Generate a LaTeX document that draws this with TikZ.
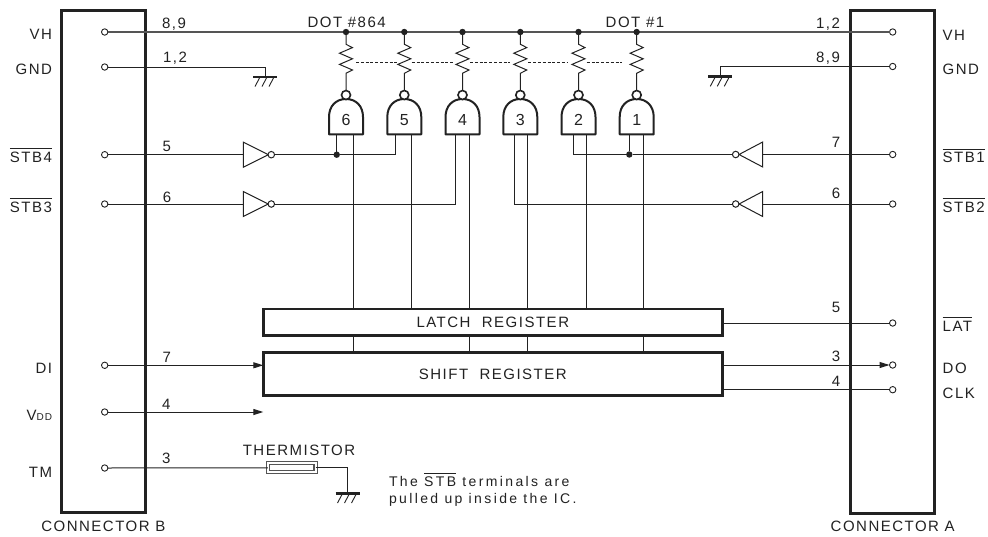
\documentclass[tikz,border=0pt]{standalone}
\usepackage{fontspec}
\setmainfont[LetterSpace=10]{Liberation Sans}
\newfontfamily\notefont[LetterSpace=17]{Liberation Sans}
\usetikzlibrary{arrows.meta,calc}
\definecolor{ink}{HTML}{222222}
\definecolor{railc}{HTML}{555555}
\newcommand\ovl[1]{\leavevmode\vbox{\hrule height .9pt \kern 2.6pt \hbox{#1}}}
\tikzset{
  wire/.style={draw=ink,line width=1pt},
  rail/.style={draw=railc,line width=1.5pt},
  conn/.style={draw=ink,line width=3pt,inner sep=0pt,outer sep=0pt,minimum width=84.5pt},
  regbox/.style={draw=ink,line width=2.5pt,inner sep=0pt,outer sep=0pt,minimum width=459pt,font=\fontsize{15}{16}\selectfont,text=ink},
  pinc/.style={circle,draw=ink,line width=0.9pt,fill=white,minimum size=6.4pt,inner sep=0pt,outer sep=0pt},
  bub/.style={circle,draw=ink,line width=1pt,fill=white,minimum size=6.5pt,inner sep=0pt,outer sep=0pt},
  gbub/.style={circle,draw=ink,line width=1.6pt,fill=white,minimum size=9pt,inner sep=0pt,outer sep=0pt},
  junc/.style={circle,fill=ink,minimum size=6.4pt,inner sep=0pt,outer sep=0pt},
  lab/.style={font=\fontsize{15}{16}\selectfont,text=ink,inner sep=0pt,outer sep=0pt},
  num/.style={lab,anchor=center},
  lL/.style={lab,anchor=base east},
  lR/.style={lab,anchor=base west},
  arr/.style={wire,-{Triangle[length=10pt,width=6pt,sep=0pt]}},
  gateshape/.style={draw=ink,line width=2pt,line join=round,fill=white},
}
\newcommand\gnd[1]{%
  \draw[ink,line width=2.8pt] ($(#1)+(-12,0)$) -- ($(#1)+(12,0)$);
  \foreach \d in {-7,0,7}{\draw[ink,line width=0.9pt] ($(#1)+(\d+1.5,1)$) -- ($(#1)+(\d-3,9.5)$);}
}
\begin{document}
\begin{tikzpicture}[x=1pt,y=-1pt]
\useasboundingbox (0,0) rectangle (988,536);
\fill[white] (0,0) rectangle (988,536);

% connector boxes
\node[conn,minimum height=501.5pt,anchor=north west] (cb) at (61,10.5) {};
\node[conn,minimum height=502.5pt,anchor=north west] (ca) at (850.3,10.5) {};

% registers
\node[regbox,minimum height=26.7pt,anchor=north west] (latch) at (263.3,309) {LATCH\ \ REGISTER};
\node[regbox,minimum height=43.4pt,anchor=north west] (shift) at (263.3,352.3) {SHIFT\ \ REGISTER};

% pins on connector B
\node[pinc] (bVH)  at (104.7,32) {};
\node[pinc] (bGND) at (104.7,67) {};
\node[pinc] (bS4)  at (104.7,154.7) {};
\node[pinc] (bS3)  at (104.7,204) {};
\node[pinc] (bDI)  at (104.7,365.3) {};
\node[pinc] (bVDD) at (104.7,412) {};
\node[pinc] (bTM)  at (104.7,468) {};
% pins on connector A
\node[pinc] (aVH)  at (892.7,32) {};
\node[pinc] (aGND) at (892.7,66.5) {};
\node[pinc] (aS1)  at (892.7,154.5) {};
\node[pinc] (aS2)  at (892.7,204) {};
\node[pinc] (aLAT) at (892.7,323) {};
\node[pinc] (aDO)  at (892.7,365) {};
\node[pinc] (aCLK) at (892.7,389.7) {};

% supply rail
\draw[rail] (bVH) -- (aVH);

% grounds
\coordinate (g1) at (265,77);
\coordinate (g2) at (720.3,76.8);
\coordinate (g3) at (347.5,493.5);
\draw[wire] (bGND) -| (g1);
\draw[wire] (aGND) -| (g2);
\gnd{g1}\gnd{g2}\gnd{g3}

% gates, resistors
\foreach \n/\x/\lx/\rx in {6/346/336.7/353.3,5/404.3/395.3/411.7,4/462.5/455.7/469.3,3/520.3/514/527.7,2/578.5/573.3/586,1/636.7/629.3/643.3}{
  \node[junc] (d\n) at (\x,32) {};
  \draw[wire] (d\n) -- (\x,44.3) -- ++(6.5,3.3) -- ++(-13,5.6) -- ++(13,5.6) -- ++(-13,5.6) -- ++(13,5.6) -- ++(-6.5,3.3) -- (\x,91);
  \path[gateshape] (\x-17,134.3) -- (\x+17,134.3) -- (\x+17,117) .. controls (\x+17,106) and (\x+10,99) .. (\x,99) .. controls (\x-10,99) and (\x-17,106) .. (\x-17,117) -- cycle;
  \node[gbub] (b\n) at (\x,95) {};
  \node[lab,font=\fontsize{16}{16}\selectfont] (gl\n) at (\x,120) {\n};
  \coordinate (gi\n) at (\lx,134.3);
  \coordinate (gr\n) at (\rx,134.3);
  \draw[wire] (gr\n) -- (gr\n |- latch.north);
}
% lines between registers
\foreach \n in {6,4,3,1}{\draw[wire] (gr\n |- latch.south) -- (gr\n |- shift.north);}

% dashed link
\foreach \a/\b in {356/396.7,411.7/453,470/510,528.3/568.3,586.7/621.7}{
  \coordinate (da) at (\a,62); \coordinate (db) at (\b,62);
  \draw[ink,line width=0.9pt,dash pattern=on 3pt off 1.8pt] (da) -- (db);
}

% inverters
\foreach \id/\y in {L4/154.7,L3/204}{
  \draw[ink,line width=1pt,fill=white,line join=miter] (243.3,\y-12.5) -- (268.3,\y) -- (243.3,\y+12.5) -- cycle;
  \coordinate (in\id) at (243.3,\y);
  \node[bub] (ib\id) at (271.3,\y) {};
}
\foreach \id/\y in {R1/154.5,R2/204}{
  \draw[ink,line width=1pt,fill=white,line join=miter] (762.7,\y-12.5) -- (739,\y) -- (762.7,\y+12.5) -- cycle;
  \coordinate (in\id) at (762.7,\y);
  \node[bub] (ib\id) at (735.7,\y) {};
}
\draw[wire] (bS4) -- (inL4);
\draw[wire] (bS3) -- (inL3);
\draw[wire] (aS1) -- (inR1);
\draw[wire] (aS2) -- (inR2);

% strobe nets
\node[junc] (j6) at (gi6 |- ibL4) {};
\node[junc] (j1) at (gi1 |- ibR1) {};
\draw[wire] (ibL4) -- (j6) -- (j6 -| gi5) -- (gi5);
\draw[wire] (j6) -- (gi6);
\draw[wire] (ibL3) -| (gi4);
\draw[wire] (ibR2) -| (gi3);
\draw[wire] (ibR1) -- (j1) -- (j1 -| gi2) -- (gi2);
\draw[wire] (j1) -- (gi1);

% register connections
\coordinate (vddend) at (263.3,412);
\draw[arr] (bDI) -- (shift.west |- bDI);
\draw[arr] (bVDD) -- (vddend);
\draw[wire] (latch.east |- aLAT) -- (aLAT);
\draw[arr] (shift.east |- aDO) -- (aDO);
\draw[wire] (shift.east |- aCLK) -- (aCLK);

% thermistor
\node[draw=railc,line width=1.1pt,fill=white,minimum width=47.6pt,minimum height=9pt,inner sep=0pt,outer sep=0pt,double=white,double distance=2pt] (th) at (291.7,467.8) {};
\draw[wire] (bTM) -- (th);
\draw[wire] (th) -| (g3);

% left labels
\node[lL] (tVHb) at (52,39.5) {VH};
\node[lL] (tGb) at (52,74.5) {GND};
\node[lL] (tS4) at (52,162) {\ovl{STB4}};
\node[lL] (tS3) at (52,212) {\ovl{STB3}};
\node[lL] (tDI) at (52,373) {DI};
\node[lL] (tVD) at (52,420) {V{\fontsize{10}{10}\selectfont DD}};
\node[lL] (tTM) at (52,477) {TM};
% right labels
\node[lR] (tVHa) at (942.7,40) {VH};
\node[lR] (tGa) at (942.7,74.5) {GND};
\node[lR] (tS1) at (942.7,162.5) {\ovl{STB1}};
\node[lR] (tS2) at (942.7,212) {\ovl{STB2}};
\node[lR] (tLAT) at (942.7,331) {\ovl{LAT}};
\node[lR] (tDO) at (942.7,373) {DO};
\node[lR] (tCK) at (942.7,398.5) {CLK};
% pin numbers
\node[num] (n1) at (174,24) {8,9};
\node[num] (n2) at (175,58) {1,2};
\node[num] (n3) at (166.7,146.7) {5};
\node[num] (n4) at (167,197) {6};
\node[num] (n5) at (166.7,357) {7};
\node[num] (n6) at (166.3,404) {4};
\node[num] (n7) at (166.3,458) {3};
\node[num] (n8) at (828,24) {1,2};
\node[num] (n9) at (828,58) {8,9};
\node[num] (n10) at (836,142.7) {7};
\node[num] (n11) at (836,193) {6};
\node[num] (n12) at (836,307.7) {5};
\node[num] (n13) at (836,356) {3};
\node[num] (n14) at (836,381) {4};
% captions
\node[lab,anchor=base east] (t864) at (385.7,27.5) {DOT \#864};
\node[lab,anchor=base west] (t1) at (605.7,27.5) {DOT \#1};
\node[lab] (tth) at (299,450.7) {THERMISTOR};
\node[lab] (tcb) at (103.3,526) {CONNECTOR B};
\node[lab] (tca) at (892.7,526) {CONNECTOR A};
\node[lab,anchor=base west,font=\notefont\fontsize{14}{16}\selectfont] (tn1) at (389,486) {The \ovl{STB} terminals are};
\node[lab,anchor=base west,font=\notefont\fontsize{14}{16}\selectfont] (tn2) at (389,503.5) {pulled up inside the IC.};
\end{tikzpicture}
\end{document}
